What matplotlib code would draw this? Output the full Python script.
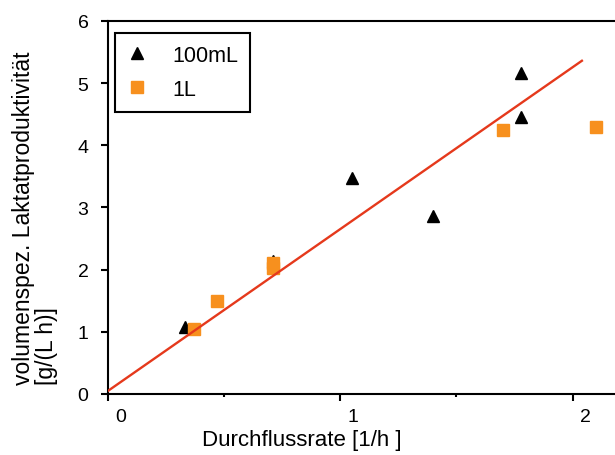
import matplotlib.pyplot as plt
import matplotlib.transforms as mtransforms
from matplotlib.ticker import MultipleLocator

plt.rcParams["font.family"] = ["Liberation Sans", "DejaVu Sans"]

rate_100ml = [0.33, 0.71, 1.05, 1.40, 1.78, 1.78]
prod_100ml = [1.08, 2.14, 3.47, 2.86, 5.17, 4.45]

rate_1l = [0.37, 0.47, 0.71, 0.71, 1.70, 2.10]
prod_1l = [1.05, 1.50, 2.10, 2.02, 4.24, 4.29]

# Ausgleichsgerade
fit_x = [0.0, 2.04]
fit_y = [0.05, 5.36]

fig = plt.figure(figsize=(6.15, 4.56), dpi=100)
ax = fig.add_axes([0.1756, 0.1338, 0.831, 0.818])

ax.plot(rate_100ml, prod_100ml, linestyle="none", marker="^", markersize=9,
        color="black", label="100mL", zorder=2)
ax.plot(rate_1l, prod_1l, linestyle="none", marker="s", markersize=8,
        color="#f7901e", label="1L", zorder=2)
ax.plot(fit_x, fit_y, color="#e5391c", linewidth=1.7, zorder=3)

ax.set_xlim(0, 2.2)
ax.set_ylim(0, 6)
ax.xaxis.set_major_locator(MultipleLocator(1))
ax.xaxis.set_minor_locator(MultipleLocator(0.5))
ax.yaxis.set_major_locator(MultipleLocator(1))

for side in ["left", "bottom", "top", "right"]:
    ax.spines[side].set_linewidth(1.5)

ax.tick_params(axis="both", which="major", direction="out", length=5,
               width=1.5, labelsize=14)
ax.tick_params(axis="y", which="major", pad=9)
ax.tick_params(axis="x", which="major", pad=5)
ax.tick_params(axis="x", which="minor", length=2, width=1.5)

# x-Beschriftungen leicht nach rechts versetzt
offset = mtransforms.ScaledTranslation(13 / 100, 0, fig.dpi_scale_trans)
for lbl in ax.get_xticklabels():
    lbl.set_transform(lbl.get_transform() + offset)

ax.set_xlabel("Durchflussrate [1/h ]", fontsize=16)
ax.xaxis.set_label_coords(0.38, -0.095)
ax.set_ylabel("volumenspez. Laktatproduktivität\n[g/(L h)]", fontsize=16.5,
              multialignment="left", linespacing=1.0)
ax.yaxis.set_label_coords(-0.098, 0.475)

leg = ax.legend(loc="upper left", bbox_to_anchor=(0.014, 0.968),
                borderaxespad=0, fontsize=15.5, fancybox=False,
                edgecolor="black", framealpha=1, handletextpad=1.2,
                labelspacing=0.6, borderpad=0.55, handlelength=0.9)
leg.get_frame().set_linewidth(1.5)

fig.savefig("out.png", dpi=100)
